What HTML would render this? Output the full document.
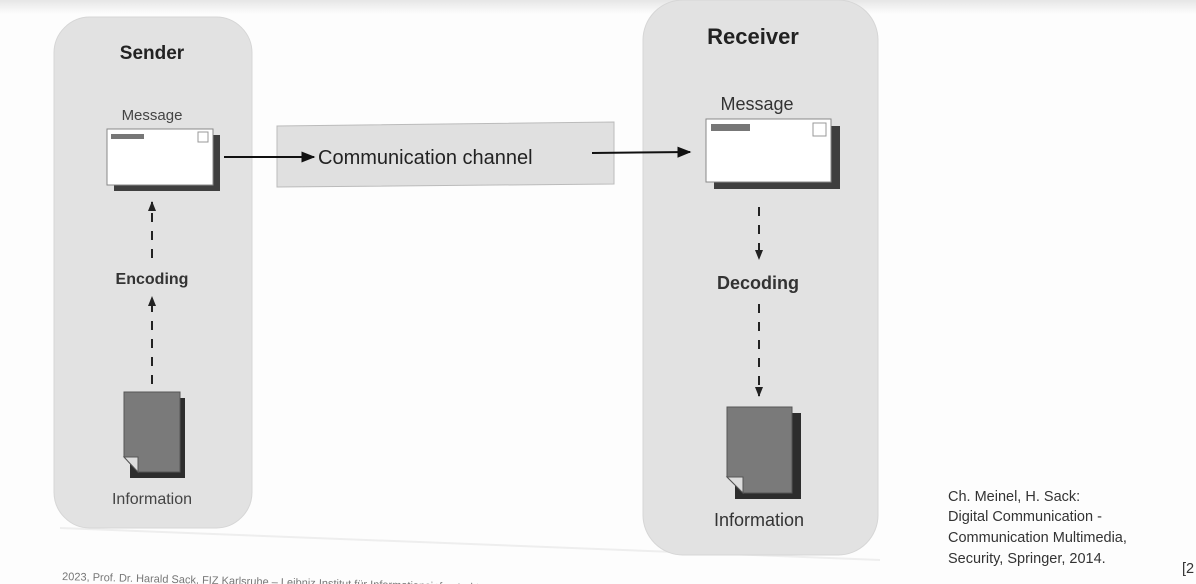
<!DOCTYPE html>
<html><head><meta charset="utf-8"><style>
html,body{margin:0;padding:0;background:#fdfdfd;}
svg{display:block;font-family:"Liberation Sans",Arial,sans-serif;}
</style></head><body>
<svg width="1196" height="584" viewBox="0 0 1196 584" xmlns="http://www.w3.org/2000/svg">
<defs>
<linearGradient id="top" x1="0" y1="0" x2="0" y2="1"><stop offset="0" stop-color="#e6e6e6"/><stop offset="1" stop-color="#fdfdfd"/></linearGradient>
<marker id="ah" viewBox="0 0 10 10" refX="9" refY="5" markerWidth="7" markerHeight="7" orient="auto"><path d="M0,1 L10,5 L0,9 z" fill="#111"/></marker>
<marker id="sh" viewBox="0 0 10 10" refX="9" refY="5" markerWidth="5" markerHeight="5" orient="auto"><path d="M0,1 L10,5 L0,9 z" fill="#222"/></marker>
</defs>
<rect width="1196" height="14" fill="url(#top)"/>
<line x1="60" y1="528" x2="880" y2="560" stroke="#eee" stroke-width="2"/>
<!-- Sender -->
<rect x="54" y="17" width="198" height="511" rx="36" fill="#e2e2e2" stroke="#d6d6d6"/>
<text x="152" y="59" text-anchor="middle" font-size="19" font-weight="bold" fill="#222">Sender</text>
<text x="152" y="120" text-anchor="middle" font-size="15" fill="#444">Message</text>
<rect x="114" y="135" width="106" height="56" fill="#222" opacity=".85"/>
<rect x="107" y="129" width="106" height="56" fill="#fff" stroke="#888"/>
<rect x="111" y="134" width="33" height="5" fill="#777"/>
<rect x="198" y="132" width="10" height="10" fill="#fff" stroke="#999"/>
<line x1="152" y1="258" x2="152" y2="202" stroke="#222" stroke-width="2" stroke-dasharray="9,9" marker-end="url(#sh)"/>
<text x="152" y="284" text-anchor="middle" font-size="16" font-weight="bold" fill="#333">Encoding</text>
<line x1="152" y1="384" x2="152" y2="297" stroke="#222" stroke-width="2" stroke-dasharray="9,9" marker-end="url(#sh)"/>
<rect x="130" y="398" width="55" height="80" fill="#1a1a1a" opacity=".9"/>
<path d="M124,392 L180,392 L180,472 L138,472 L124,457 z" fill="#7a7a7a" stroke="#555"/>
<path d="M124,457 L138,457 L138,472 z" fill="#ddd" stroke="#555"/>
<text x="152" y="504" text-anchor="middle" font-size="16" fill="#444">Information</text>
<!-- channel -->
<path d="M277,126 L614,122 L614,184 L277,187 z" fill="#e0e0e0" stroke="#bbb"/>
<line x1="224" y1="157" x2="314" y2="157" stroke="#111" stroke-width="2" marker-end="url(#ah)"/>
<text x="318" y="164" font-size="20" fill="#222">Communication channel</text>
<!-- Receiver -->
<rect x="643" y="0" width="235" height="555" rx="40" fill="#e2e2e2" stroke="#d6d6d6"/>
<line x1="592" y1="153" x2="690" y2="152" stroke="#111" stroke-width="2" marker-end="url(#ah)"/>
<text x="753" y="44" text-anchor="middle" font-size="22" font-weight="bold" fill="#222">Receiver</text>
<text x="757" y="110" text-anchor="middle" font-size="18" fill="#333">Message</text>
<rect x="714" y="126" width="126" height="63" fill="#222" opacity=".85"/>
<rect x="706" y="119" width="125" height="63" fill="#fff" stroke="#888"/>
<rect x="711" y="124" width="39" height="7" fill="#777"/>
<rect x="813" y="123" width="13" height="13" fill="#fff" stroke="#999"/>
<line x1="759" y1="207" x2="759" y2="259" stroke="#222" stroke-width="2" stroke-dasharray="9,9" marker-end="url(#sh)"/>
<text x="758" y="289" text-anchor="middle" font-size="18" font-weight="bold" fill="#333">Decoding</text>
<line x1="759" y1="304" x2="759" y2="396" stroke="#222" stroke-width="2" stroke-dasharray="9,9" marker-end="url(#sh)"/>
<rect x="735" y="413" width="66" height="86" fill="#1a1a1a" opacity=".9"/>
<path d="M727,407 L792,407 L792,493 L743,493 L727,477 z" fill="#7a7a7a" stroke="#555"/>
<path d="M727,477 L743,477 L743,493 z" fill="#ddd" stroke="#555"/>
<text x="759" y="526" text-anchor="middle" font-size="18" fill="#333">Information</text>
<!-- citation -->
<g font-size="14.5" fill="#333">
<text x="948" y="501">Ch. Meinel, H. Sack:</text>
<text x="948" y="521">Digital Communication -</text>
<text x="948" y="542">Communication Multimedia,</text>
<text x="948" y="563">Security, Springer, 2014.</text>
<text x="1182" y="573">[2</text>
</g>
<text x="62" y="580" font-size="11" fill="#777" transform="rotate(1.5 62 580)">2023, Prof. Dr. Harald Sack, FIZ Karlsruhe – Leibniz Institut für Informationsinfrastruktur</text>
</svg>
</body></html>
